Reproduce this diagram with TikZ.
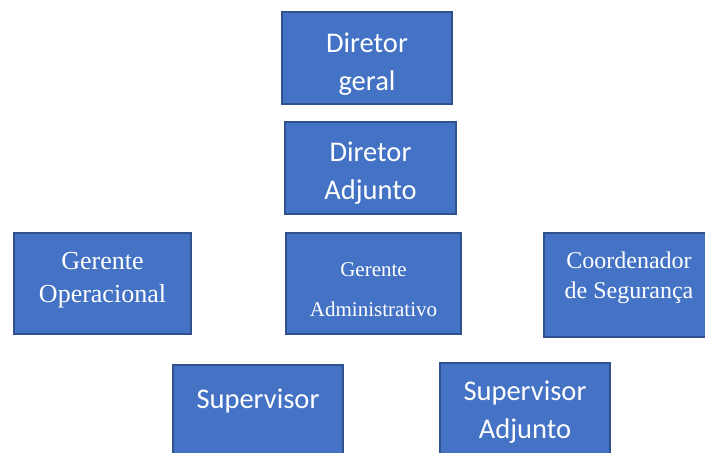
\documentclass[tikz,border=0pt]{standalone}
\usepackage{fontspec}
\setmainfont{Liberation Serif}
\newfontfamily\calibrifont{Carlito}
\usepackage{xcolor}
\usetikzlibrary{positioning}

\definecolor{orgblue}{HTML}{4472C4}
\definecolor{orgedge}{HTML}{2F528F}

\tikzset{
  orgbox/.style={rectangle, fill=orgblue, draw=orgedge, line width=1.6pt,
    text=white, align=center, inner sep=0pt},
  sanslabel/.style={font=\calibrifont\fontsize{28.5}{37.5}\selectfont},
  lift/.style 2 args={text height=#1, text depth=#2},
}

\begin{document}
\begin{tikzpicture}[x=1pt, y=-1pt]

  \useasboundingbox (0,0) rectangle (705,453);

  % Direction
  \node[orgbox, sanslabel, minimum width=170pt, minimum height=92pt, lift={64pt}{0pt}]
    (geral) at (367,58) {Diretor\\geral};
  \node[orgbox, sanslabel, minimum width=171pt, minimum height=92pt, lift={62pt}{0pt}]
    (adjunto) at (370.5,168) {Diretor\\Adjunto};

  % Managers
  \node[orgbox, font=\fontsize{26}{33}\selectfont, minimum width=177pt, minimum height=101pt, lift={37pt}{0pt}]
    (operacional) at (102.5,283.5) {Gerente\\Operacional};
  \node[orgbox, font=\fontsize{21}{40}\selectfont, minimum width=175pt, minimum height=101pt, lift={65pt}{0pt}]
    (administrativo) at (373.5,283.5) {Gerente\\Administrativo};
  \node[orgbox, font=\fontsize{24}{30}\selectfont, minimum width=170pt, minimum height=104pt, lift={26pt}{0pt}]
    (seguranca) at (629,285) {Coordenador\\de Segurança};

  % Supervisors
  \node[orgbox, sanslabel, minimum width=170pt, minimum height=104pt, lift={0pt}{18pt}]
    (supervisor) at (258,417) {Supervisor};
  \node[orgbox, sanslabel, minimum width=170pt, minimum height=106pt, lift={44pt}{0pt}]
    (supadjunto) at (525,416) {Supervisor\\Adjunto};

\end{tikzpicture}
\end{document}
